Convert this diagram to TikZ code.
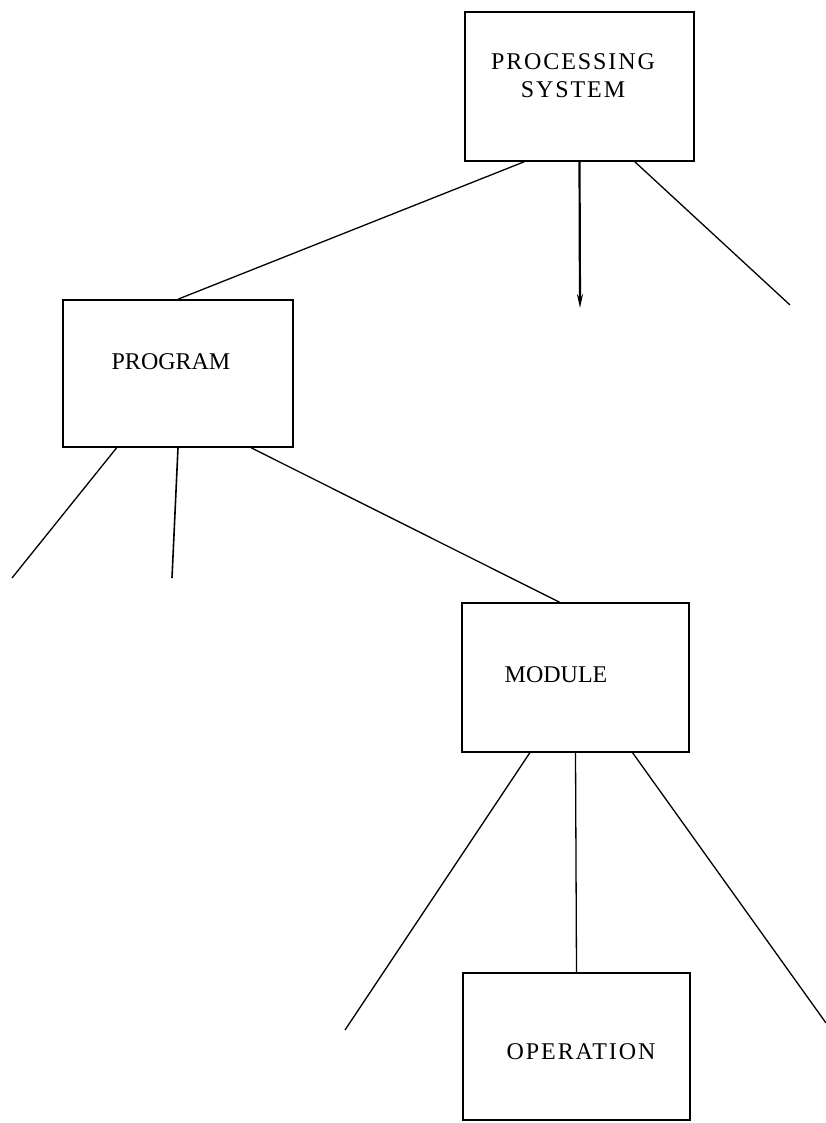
\documentclass[tikz,border=0pt]{standalone}
\usepackage{fontspec}
\setmainfont{Liberation Serif}
\usetikzlibrary{calc,arrows.meta}
\begin{document}
\begin{tikzpicture}[x=1pt,y=-1pt,
  box/.style={draw,line width=1.6pt,rectangle,inner sep=0pt},
  lbl/.style={font=\fontsize{24}{28}\selectfont,align=center,inner sep=0pt},
  wide/.style={font=\fontsize{24}{28}\selectfont\addfontfeature{LetterSpace=8}},
  link/.style={line width=1.3pt}]
\useasboundingbox (0,0) rectangle (826,1123);
% boxes
\node[box,minimum width=229pt,minimum height=149pt] (ps)   at (579.5,86.5) {};
\node[box,minimum width=230pt,minimum height=147pt] (prog) at (178,373.5) {};
\node[box,minimum width=227pt,minimum height=149pt] (mod)  at (575.5,677.5) {};
\node[box,minimum width=227pt,minimum height=147pt] (op)   at (576.5,1046.5) {};
% box titles
\node[lbl,wide] (pst) at (573,76) {PROCESSING\\SYSTEM};
\node[lbl] (progt) at (171,362) {PROGRAM};
\node[lbl] (modt) at (556,675) {MODULE};
\node[lbl,wide] (opt) at (581,1052) {OPERATION};
% open ends of branches
\coordinate (psd) at (580,308);
\coordinate (psr) at (790,305);
\coordinate (prl) at (12,578);
\coordinate (prm) at (172,578);
\coordinate (mol) at (345,1030);
\coordinate (mor) at (826,1023);
% connectors
\draw[link] ($(ps.south west)!0.26!(ps.south east)$) -- (prog.north);
\draw[line width=2.2pt,-{Stealth[length=14pt,width=6pt]}] (ps.south) -- (psd);
\draw[link] ($(ps.south west)!0.74!(ps.south east)$) -- (psr);
\draw[link] ($(prog.south west)!0.235!(prog.south east)$) -- (prl);
\draw[line width=1.6pt] (prog.south) -- (prm);
\draw[link] ($(prog.south west)!0.816!(prog.south east)$) -- ($(mod.north west)!0.43!(mod.north east)$);
\draw[link] ($(mod.south west)!0.30!(mod.south east)$) -- (mol);
\draw[link] (mod.south) -- (op.north);
\draw[link] ($(mod.south west)!0.75!(mod.south east)$) -- (mor);
\end{tikzpicture}
\end{document}
